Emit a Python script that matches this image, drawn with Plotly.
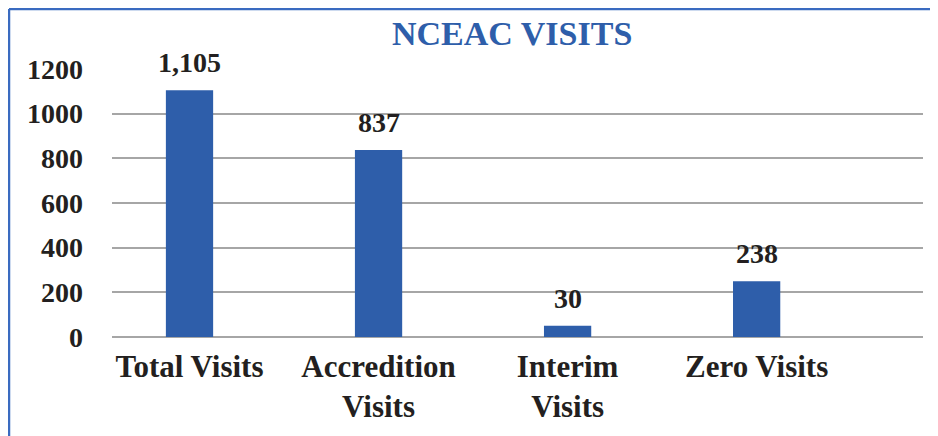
import plotly.graph_objects as go

categories = ["Total Visits", "Accredition<br>Visits", "Interim<br>Visits", "Zero Visits"]
bar_values = [1105, 837, 50, 250]
value_labels = ["1,105", "837", "30", "238"]
y_ticks = [0, 200, 400, 600, 800, 1000, 1200]

BLUE = "#2E5EAA"
TEXT = "#231F20"
FONT = "Liberation Serif"

# plot area in figure pixels (page is offset by 8px body margin)
L, R, T, B = 104, 915, 61, 329
PW, PH = R - L, B - T

x_pos = list(range(len(categories)))

fig = go.Figure()
fig.add_trace(go.Bar(
    x=x_pos, y=bar_values, width=0.25,
    marker=dict(color=BLUE, line=dict(width=0)),
    hoverinfo="skip",
))

for xi, v, lab in zip(x_pos, bar_values, value_labels):
    fig.add_annotation(x=xi, y=v, text=f"<b>{lab}</b>", showarrow=False,
                       yanchor="bottom", yshift=10,
                       font=dict(family=FONT, size=28, color=TEXT))

# title
fig.add_annotation(text="<b>NCEAC VISITS</b>", xref="paper", yref="paper",
                   x=(503.5 - L) / PW, y=(B - 25) / PH,
                   xanchor="center", yanchor="middle", showarrow=False,
                   font=dict(family=FONT, size=34, color=BLUE))

fig.update_layout(
    width=938, height=436,
    margin=dict(l=L, r=938 - R, t=T, b=436 - B, autoexpand=False),
    paper_bgcolor="white", plot_bgcolor="white",
    showlegend=False,
    xaxis=dict(range=[-0.41, 3.88], tickvals=x_pos,
               ticktext=[f"<b>{c}</b>" for c in categories],
               showgrid=False, zeroline=False, showline=False, ticks="",
               automargin=False, ticklabelstandoff=8,
               tickfont=dict(family=FONT, size=31, color=TEXT)),
    yaxis=dict(range=[0, 1200], tickvals=y_ticks,
               ticktext=[f"<b>{t}</b>" for t in y_ticks],
               showgrid=True, gridcolor="#A6A6A6", gridwidth=1.5,
               zeroline=True, zerolinecolor="#A6A6A6", zerolinewidth=1.5,
               showline=False, ticks="", ticklabelstandoff=28,
               automargin=False,
               tickfont=dict(family=FONT, size=28, color=TEXT)),
    shapes=[
        dict(type="line", xref="paper", yref="paper",
             x0=(1 - L) / PW, x1=(945 - L) / PW,
             y0=(B - 1) / PH, y1=(B - 1) / PH,
             line=dict(color="#3A6BC0", width=2.5)),
        dict(type="line", xref="paper", yref="paper",
             x0=(1 - L) / PW, x1=(1 - L) / PW,
             y0=(B - 1) / PH, y1=(B - 445) / PH,
             line=dict(color="#3A6BC0", width=2.5)),
    ],
)

fig.write_html("out.html")
